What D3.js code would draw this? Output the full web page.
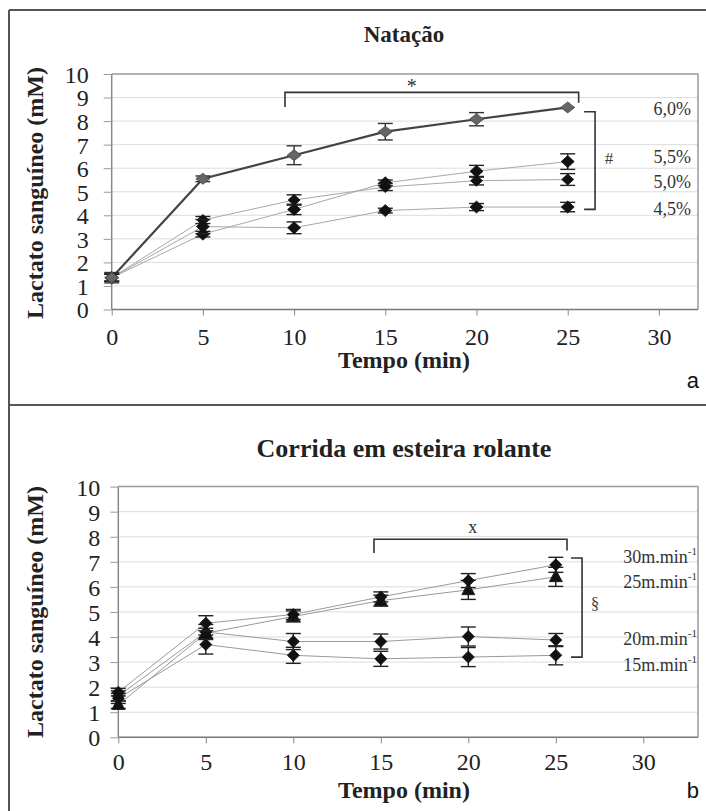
<!DOCTYPE html>
<html><head><meta charset="utf-8">
<script src="https://cdn.jsdelivr.net/npm/d3@7"></script>
<style>body{margin:0;background:#fff}svg{display:block}</style>
</head><body>
<svg id="c" width="706" height="811"></svg>
<script>
// ---------- data ----------
const timeMin = [0, 5, 10, 15, 20, 25];
const xTickValues = [0, 5, 10, 15, 20, 25, 30];
const yTickValues = [0, 1, 2, 3, 4, 5, 6, 7, 8, 9, 10];
const yAxisTitle = "Lactato sanguíneo (mM)";
const xAxisTitle = "Tempo (min)";

const swimTitle = "Natação";
const swimLabels = ["6,0%", "5,5%", "5,0%", "4,5%"];
const swim60 = [1.35, 5.55, 6.55, 7.55, 8.08, 8.58];
const swim60Err = [0.22, 0.12, 0.4, 0.35, 0.28, 0.05];
const swim55 = [1.35, 3.2, 4.25, 5.38, 5.87, 6.28];
const swim55Err = [0.15, 0.12, 0.22, 0.12, 0.25, 0.33];
const swim50 = [1.35, 3.8, 4.65, 5.2, 5.47, 5.52];
const swim50Err = [0.15, 0.15, 0.22, 0.15, 0.18, 0.25];
const swim45 = [1.35, 3.52, 3.47, 4.2, 4.35, 4.35];
const swim45Err = [0.15, 0.3, 0.25, 0.1, 0.15, 0.2];

const runTitle = "Corrida em esteira rolante";
const runLabels = ["30m.min", "25m.min", "20m.min", "15m.min"];
const runLabelSup = "-1";
const run30 = [1.8, 4.55, 4.9, 5.6, 6.25, 6.88];
const run30Err = [0.15, 0.3, 0.2, 0.2, 0.28, 0.3];
const run25 = [1.3, 4.15, 4.82, 5.45, 5.88, 6.4];
const run25Err = [0.15, 0.2, 0.22, 0.22, 0.38, 0.38];
const run20 = [1.65, 4.2, 3.82, 3.82, 4.02, 3.88];
const run20Err = [0.2, 0.3, 0.32, 0.3, 0.38, 0.26];
const run15 = [1.55, 3.7, 3.27, 3.13, 3.2, 3.27];
const run15Err = [0.2, 0.38, 0.32, 0.3, 0.38, 0.38];

// ---------- drawing ----------
const svg = d3.select("#c");
const SERIF = "'Liberation Serif', 'Times New Roman', serif";
const SANS = "'Liberation Sans', Arial, sans-serif";

// panel frame
svg.append("line").attr("x1", 9).attr("x2", 706).attr("y1", 10).attr("y2", 10)
  .attr("stroke", "#555").attr("stroke-width", 2);
svg.append("line").attr("x1", 9).attr("x2", 706).attr("y1", 405).attr("y2", 405)
  .attr("stroke", "#555").attr("stroke-width", 2);
svg.append("line").attr("x1", 9).attr("x2", 9).attr("y1", 10).attr("y2", 811)
  .attr("stroke", "#555").attr("stroke-width", 2);

function diamond(w, h) { return `M0,${-h}L${w},0L0,${h}L${-w},0Z`; }
function triangle(w, h) { return `M0,${-h*0.6}L${w},${h*0.4}L${-w},${h*0.4}Z`; }

function txt(sel, size, bold, fam) {
  return sel.style("font-family", fam || SERIF).style("font-size", size + "px")
    .style("font-weight", bold ? "bold" : "normal");
}

function drawPanel(o) {
  const g = svg.append("g");
  const x = d3.scaleLinear().domain([0, 30]).range(o.xr);
  const y = d3.scaleLinear().domain([0, 10]).range(o.yr);
  const x0 = x(0), right = o.right;

  // gridlines
  g.append("g").selectAll("line").data(yTickValues.filter(v => v > 0 && v < 10)).join("line")
    .attr("x1", x0).attr("x2", right).attr("y1", d => y(d)).attr("y2", d => y(d))
    .attr("stroke", "#dcdcdc").attr("stroke-width", 1);
  // plot border (top & right)
  g.append("path").attr("d", `M${x0},${y(10)}H${right}V${y(0)}`)
    .attr("fill", "none").attr("stroke", "#9a9a9a").attr("stroke-width", 1.5);

  // axes
  const xAxis = d3.axisBottom(x).tickValues(xTickValues).tickSize(6).tickPadding(o.xPad)
    .tickFormat(d3.format("d"));
  const gx = g.append("g").attr("transform", `translate(0,${y(0)})`).call(xAxis);
  gx.select(".domain").attr("d", `M${x0},0H${right}`).attr("stroke", "#777").attr("stroke-width", 1.5);
  gx.selectAll(".tick line").attr("stroke", "#888");
  txt(gx.selectAll(".tick text"), 24).attr("fill", "#222").attr("dy", "0.71em");

  const yAxis = d3.axisLeft(y).tickValues(yTickValues).tickSize(8).tickPadding(o.yPad);
  const gy = g.append("g").attr("transform", `translate(${x0},0)`).call(yAxis);
  gy.select(".domain").attr("d", `M0,${y(10)}V${y(0)}`).attr("stroke", "#888").attr("stroke-width", 1.5);
  gy.selectAll(".tick line").attr("stroke", "#999");
  txt(gy.selectAll(".tick text"), 24).attr("fill", "#222").attr("dy", "0.35em");

  // titles
  txt(g.append("text"), o.titleSize, true).attr("x", 404).attr("y", o.titleY)
    .attr("text-anchor", "middle").attr("fill", "#222").text(o.title);
  txt(g.append("text"), 24, true).attr("x", 404).attr("y", o.xTitleY)
    .attr("text-anchor", "middle").attr("fill", "#222").text(xAxisTitle);
  txt(g.append("text"), 24, true).attr("transform", `translate(43,${o.yTitleC}) rotate(-90)`)
    .attr("text-anchor", "middle").attr("fill", "#222").text(yAxisTitle);
  txt(g.append("text"), 22, false, SANS).attr("x", 699).attr("y", o.letterY)
    .attr("text-anchor", "end").attr("fill", "#111").text(o.letter);

  // series lines
  const line = d3.line().x((d, i) => x(timeMin[i])).y(d => y(d));
  o.series.forEach(s => {
    g.append("path").attr("d", line(s.v)).attr("fill", "none")
      .attr("stroke", s.lineColor).attr("stroke-width", s.lineWidth);
  });
  // error bars + markers
  o.series.forEach(s => {
    const eb = g.append("g").attr("stroke", s.errColor).attr("stroke-width", 1.4);
    s.v.forEach((v, i) => {
      const cx = x(timeMin[i]), e = s.e[i];
      if (e <= 0.06) return;
      eb.append("line").attr("x1", cx).attr("x2", cx).attr("y1", y(v + e)).attr("y2", y(v - e));
      eb.append("line").attr("x1", cx - 7.5).attr("x2", cx + 7.5).attr("y1", y(v + e)).attr("y2", y(v + e));
      eb.append("line").attr("x1", cx - 7.5).attr("x2", cx + 7.5).attr("y1", y(v - e)).attr("y2", y(v - e));
    });
    g.append("g").selectAll("path").data(s.v).join("path")
      .attr("transform", (d, i) => `translate(${x(timeMin[i])},${y(d)})`)
      .attr("d", s.shape).attr("fill", s.fill).attr("stroke", s.stroke).attr("stroke-width", 0.8);
  });

  o.annotate(g, x, y);
}

// ---- Panel a: Natação ----
drawPanel({
  xr: [111.7, 658.9], yr: [309.5, 74], right: 698, yPad: 15, xPad: 12,
  title: swimTitle, titleSize: 23, titleY: 42, xTitleY: 368, yTitleC: 193, letter: "a", letterY: 388,
  series: [
    { v: swim55, e: swim55Err, lineColor: "#a8a8a8", lineWidth: 1, errColor: "#222", shape: diamond(6.5, 6), fill: "#111", stroke: "#111" },
    { v: swim50, e: swim50Err, lineColor: "#a8a8a8", lineWidth: 1, errColor: "#222", shape: diamond(6, 5.5), fill: "#111", stroke: "#111" },
    { v: swim45, e: swim45Err, lineColor: "#a8a8a8", lineWidth: 1, errColor: "#222", shape: diamond(6.5, 6), fill: "#111", stroke: "#111" },
    { v: swim60, e: swim60Err, lineColor: "#444", lineWidth: 2.2, errColor: "#333", shape: diamond(7, 5.5), fill: "#666", stroke: "#444" }
  ],
  annotate: (g, x, y) => {
    const st = sel => sel.attr("fill", "none").attr("stroke", "#333").attr("stroke-width", 1.6);
    g.append("path").attr("d", `M${x(9.5)},${y(8.6)}V${y(9.22)}H${x(25.6)}V${y(8.78)}`).call(st);
    txt(g.append("text"), 20).attr("x", x(16.45)).attr("y", y(9.22) + 1).attr("text-anchor", "middle")
      .attr("fill", "#333").text("*");
    g.append("path").attr("d", `M${x(25.9)},${y(8.4)}H${x(26.5)}V${y(4.25)}H${x(25.9)}`).call(st);
    txt(g.append("text"), 17).attr("x", x(27.27)).attr("y", y(6.43)).attr("dy", "0.35em")
      .attr("text-anchor", "middle").attr("fill", "#444").text("#");
    const ly = [8.51, 6.49, 5.43, 4.28];
    txt(g.append("g").selectAll("text").data(swimLabels).join("text"), 18)
      .attr("x", x(31.76)).attr("y", (d, i) => y(ly[i])).attr("dy", "0.35em")
      .attr("text-anchor", "end").attr("fill", "#333").text(d => d);
  }
});

// ---- Panel b: Corrida ----
drawPanel({
  xr: [118.3, 643.3], yr: [737.3, 486.6], right: 698, yPad: 10, xPad: 10,
  title: runTitle, titleSize: 26, titleY: 457, xTitleY: 798, yTitleC: 612, letter: "b", letterY: 798,
  series: [
    { v: run15, e: run15Err, lineColor: "#9a9a9a", lineWidth: 1, errColor: "#222", shape: diamond(6, 6), fill: "#111", stroke: "#111" },
    { v: run20, e: run20Err, lineColor: "#9a9a9a", lineWidth: 1, errColor: "#222", shape: diamond(6, 6), fill: "#111", stroke: "#111" },
    { v: run25, e: run25Err, lineColor: "#9a9a9a", lineWidth: 1, errColor: "#222", shape: triangle(6.5, 12), fill: "#111", stroke: "#111" },
    { v: run30, e: run30Err, lineColor: "#9a9a9a", lineWidth: 1, errColor: "#222", shape: diamond(6, 6), fill: "#111", stroke: "#111" }
  ],
  annotate: (g, x, y) => {
    const st = sel => sel.attr("fill", "none").attr("stroke", "#333").attr("stroke-width", 1.6);
    g.append("path").attr("d", `M${x(14.61)},${y(7.35)}V${y(7.9)}H${x(25.64)}V${y(7.45)}`).call(st);
    txt(g.append("text"), 18).attr("x", x(20.26)).attr("y", y(7.9) - 6).attr("text-anchor", "middle")
      .attr("fill", "#333").text("x");
    g.append("path").attr("d", `M${x(25.87)},${y(7.15)}H${x(26.5)}V${y(3.2)}H${x(25.87)}`).call(st);
    txt(g.append("text"), 17).attr("x", x(27.24)).attr("y", y(5.36)).attr("dy", "0.35em")
      .attr("text-anchor", "middle").attr("fill", "#444").text("§");
    const ly = [7.19, 6.19, 3.92, 2.88];
    const t = txt(g.append("g").selectAll("text").data(runLabels).join("text"), 18)
      .attr("x", x(33.07)).attr("y", (d, i) => y(ly[i])).attr("dy", "0.35em")
      .attr("text-anchor", "end").attr("fill", "#333");
    t.append("tspan").text(d => d);
    t.append("tspan").style("font-size", "11px").attr("dy", "-0.75em").text(runLabelSup);
  }
});
</script>
</body></html>
